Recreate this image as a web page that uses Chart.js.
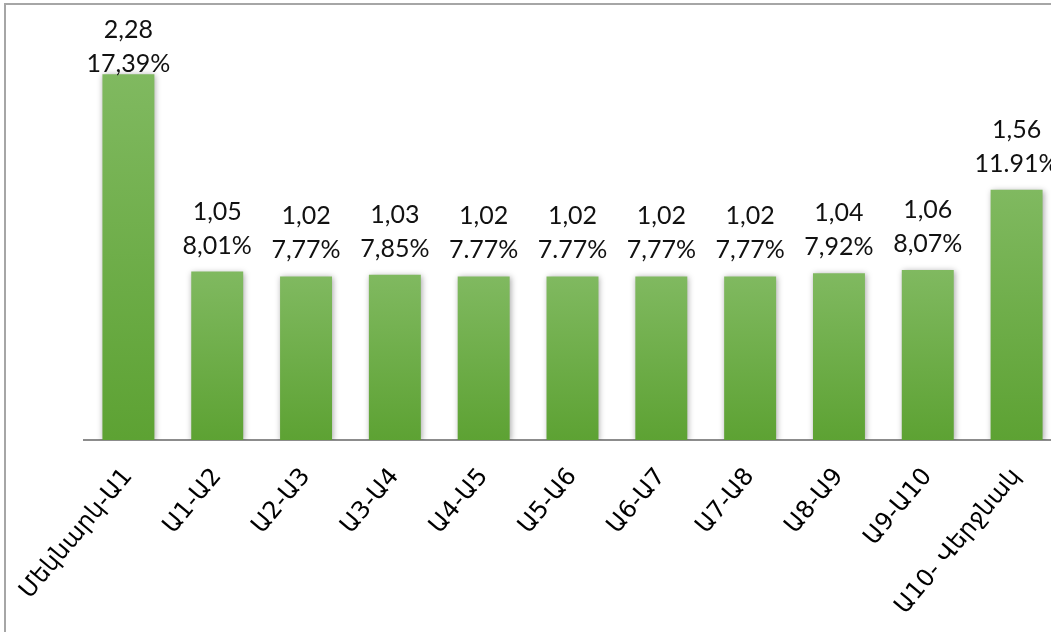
<!DOCTYPE html>
<html>
<head>
<meta charset="utf-8">
<script src="https://cdn.jsdelivr.net/npm/chart.js@4.4.1/dist/chart.umd.min.js"></script>
<style>
    html, body { margin: 0; padding: 0; background: #fff; overflow: hidden; }
    .frame {
        position: absolute; left: 4px; top: 3px;
        width: 2000px; height: 2000px;
        border: 2px solid #a6a6a6;
    }
    .chart-box {
        position: absolute; left: 0; top: 0;
        width: 1075px; height: 632px;
    }
</style>
</head>
<body>
<div class="frame"></div>
<div class="chart-box"><canvas id="stages"></canvas></div>
<script>
// Stage intervals (Armenian labels)
const stages = [
    'Մեկնարկ-Ա1', 'Ա1-Ա2', 'Ա2-Ա3', 'Ա3-Ա4', 'Ա4-Ա5', 'Ա5-Ա6',
    'Ա6-Ա7', 'Ա7-Ա8', 'Ա8-Ա9', 'Ա9-Ա10', 'Ա10- Վերջնակ'
];
const durations = [2.28, 1.05, 1.02, 1.03, 1.02, 1.02, 1.02, 1.02, 1.04, 1.06, 1.56];
const shares = ['17,39%', '8,01%', '7,77%', '7,85%', '7.77%', '7.77%', '7,77%', '7,77%', '7,92%', '8,07%', '11.91%'];

// Vertical gradient per bar, light on top, darker at the base
function barFill(ctx) {
    const chart = ctx.chart;
    const y = chart.scales.y;
    if (!chart.chartArea || !y || ctx.parsed === undefined) return '#6fae48';
    const top = y.getPixelForValue(ctx.parsed.y);
    const bottom = y.getPixelForValue(0);
    const g = chart.ctx.createLinearGradient(0, top, 0, bottom);
    g.addColorStop(0, '#80b960');
    g.addColorStop(1, '#5da233');
    return g;
}

// Soft shadow behind the bars
const barShadow = {
    id: 'barShadow',
    beforeDatasetsDraw(chart) {
        const c = chart.ctx;
        c.save();
        c.shadowColor = 'rgba(0,0,0,0.35)';
        c.shadowBlur = 6;
        c.shadowOffsetX = 1;
        c.shadowOffsetY = 1;
    },
    afterDatasetsDraw(chart) {
        chart.ctx.restore();
    }
};

// Two-line value labels above each bar
const valueLabels = {
    id: 'valueLabels',
    afterDatasetsDraw(chart) {
        const c = chart.ctx;
        const meta = chart.getDatasetMeta(0);
        c.save();
        c.fillStyle = '#111';
        c.font = '25px Lato, "Noto Sans", sans-serif';
        c.textAlign = 'center';
        c.textBaseline = 'alphabetic';
        meta.data.forEach((bar, i) => {
            let first = bar.y - 52;
            if (first < 38) first = 38;
            const second = first + 34;
            c.fillText(durations[i].toFixed(2).replace('.', ','), bar.x, first);
            c.fillText(shares[i], bar.x, second);
        });
        c.restore();
    }
};

new Chart(document.getElementById('stages'), {
    type: 'bar',
    data: {
        labels: stages,
        datasets: [{
            data: durations,
            backgroundColor: barFill,
            borderWidth: 0,
            categoryPercentage: 1,
            barPercentage: 0.585
        }]
    },
    options: {
        responsive: true,
        maintainAspectRatio: false,
        animation: false,
        layout: { padding: { left: 84, right: 14, top: 39, bottom: 0 } },
        scales: {
            x: {
                grid: { display: false, drawTicks: false },
                border: { display: true, color: '#8c8c8c', width: 2 },
                ticks: {
                    color: '#000',
                    autoSkip: false,
                    minRotation: 50,
                    maxRotation: 50,
                    padding: 23,
                    font: { family: '"DejaVu Sans", sans-serif', size: 24 }
                },
                afterFit(scale) {
                    scale.paddingLeft = 0;
                    scale.paddingRight = 0;
                    scale.height = 192;
                }
            },
            y: {
                display: false,
                min: 0,
                max: 2.5
            }
        },
        plugins: {
            legend: { display: false },
            tooltip: { enabled: false }
        }
    },
    plugins: [barShadow, valueLabels]
});
</script>
</body>
</html>
